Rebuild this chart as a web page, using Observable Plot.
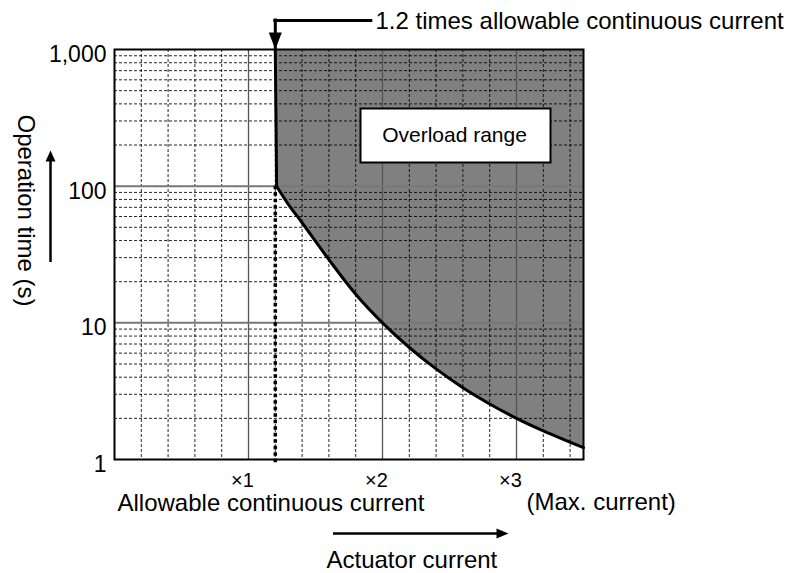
<!DOCTYPE html>
<html><head><meta charset="utf-8">
<script src="https://cdn.jsdelivr.net/npm/d3@7"></script>
<script src="https://cdn.jsdelivr.net/npm/@observablehq/plot@0.6"></script>
<style>body{margin:0;background:#fff;} svg{display:block;}</style>
</head><body><div id="chart"></div>
<script>
// ---- data ----
const currentMultiple = [1.2, 1.21, 1.3, 1.4, 1.6, 1.8, 2.0, 2.2, 2.4, 2.6, 2.8, 3.0, 3.2, 3.5];
const operationTime   = [1000, 100, 73, 54, 29, 16.2, 10, 6.6, 4.6, 3.35, 2.55, 2.0, 1.62, 1.22];
const thresholdMultiple = 1.2;
const xTickValues = [1, 2, 3];
const xTickLabels = ["×1", "×2", "×3"];
const yTickValues = [1, 10, 100, 1000];
const yTickLabels = ["1", "10", "100", "1,000"];
const xMinorGrid = d3.range(0.2, 3.5, 0.2).map(v => +v.toFixed(1)).filter(v => !xTickValues.includes(v));
const yMinorGrid = [1, 10, 100].flatMap(d => [2,3,4,5,6,7,8,9].map(m => m * d));
const titleText = "1.2 times allowable continuous current";
const rangeLabel = "Overload range";
const xLabelLeft = "Allowable continuous current";
const xLabelRight = "(Max. current)";
const xLabelBottom = "Actuator current";
const yLabel = "Operation time (s)";

const curve = currentMultiple.map((x, i) => ({x, t: operationTime[i]}));
const steepPart = curve.slice(0, 2);   // near-vertical limit at 1.2×
const decayPart = curve.slice(1);      // decaying limit curve

const arrowDown = {draw(c) { c.moveTo(0, 0); c.lineTo(-6.5, -17); c.lineTo(6.5, -17); c.closePath(); }};
const arrowUp = {draw(c) { c.moveTo(0, 0); c.lineTo(-5, 11); c.lineTo(5, 11); c.closePath(); }};
const arrowRight = {draw(c) { c.moveTo(0, 0); c.lineTo(-12, -5); c.lineTo(-12, 5); c.closePath(); }};

const font = "'Liberation Sans', Arial, Helvetica, sans-serif";

const chart = Plot.plot({
  width: 788,
  height: 573,
  marginLeft: 114,
  marginRight: 205,
  marginTop: 49,
  marginBottom: 114,
  style: {fontFamily: font, fontSize: "23px", background: "#fff", color: "#000", overflow: "visible"},
  x: {domain: [0, 3.5]},
  y: {type: "log", domain: [1, 1000]},
  marks: [
    // overload region
    Plot.areaY(steepPart, {x: "x", y1: "t", y2: () => 1000, fill: "#808080"}),
    Plot.areaY(decayPart, {x: "x", y1: "t", y2: () => 1000, fill: "#808080", curve: "catmull-rom"}),
    // grid
    Plot.ruleX(xMinorGrid, {stroke: "#000", strokeWidth: 1, strokeDasharray: "3,2", strokeOpacity: 0.85}),
    Plot.ruleY(yMinorGrid, {stroke: "#000", strokeWidth: 1, strokeDasharray: "3,2", strokeOpacity: 0.85}),
    Plot.ruleX(xTickValues, {stroke: "#555", strokeWidth: 1.3}),
    Plot.ruleY([10, 100], {stroke: "#777", strokeWidth: 2}),
    // overload label box
    Plot.frame({insetLeft: 246, insetRight: 33, insetTop: 59, insetBottom: 297, fill: "white", stroke: "black", strokeWidth: 2}),
    Plot.text([rangeLabel], {frameAnchor: "top-left", dx: 340, dy: 86, textAnchor: "middle", lineAnchor: "middle", fontSize: 21}),
    // dotted line at 1.2x
    Plot.ruleX([thresholdMultiple], {y1: () => 100, y2: () => 1, stroke: "#000", strokeWidth: 3.5, strokeDasharray: "3.5,3", insetBottom: -6}),
    // boundary curve
    Plot.line(steepPart, {x: "x", y: "t", stroke: "#000", strokeWidth: 3}),
    Plot.line(decayPart, {x: "x", y: "t", stroke: "#000", strokeWidth: 3, curve: "catmull-rom"}),
    // frame
    Plot.frame({stroke: "#000", strokeWidth: 2}),
    // axes
    Plot.axisY(yTickValues, {tickFormat: (d) => yTickLabels[yTickValues.indexOf(d)], tickSize: 0, tickPadding: 8, fontSize: 23, dy: 5, label: null}),
    Plot.axisX(xTickValues, {tickFormat: (d) => xTickLabels[xTickValues.indexOf(d)], tickSize: 0, tickPadding: 13, fontSize: 20, dx: -6, label: null}),
    // leader arrow for 1.2x
    Plot.ruleY([1000], {x1: () => thresholdMultiple, x2: () => thresholdMultiple, dy: -29, insetRight: -96, stroke: "#000", strokeWidth: 3, strokeLinecap: "square"}),
    Plot.ruleX([thresholdMultiple], {y1: () => 1000, y2: () => 1000, insetTop: -29, insetBottom: 0, stroke: "#000", strokeWidth: 3, strokeLinecap: "square"}),
    Plot.dot([thresholdMultiple], {x: d => d, y: () => 1000, symbol: arrowDown, fill: "#000", stroke: "none"}),
    Plot.text([titleText], {frameAnchor: "top-left", dx: 261, dy: -21, textAnchor: "start", lineAnchor: "bottom", fontSize: 24}),
    // y label + arrow
    Plot.text([yLabel], {frameAnchor: "left", dx: -89, dy: -44, rotate: 90, textAnchor: "middle", lineAnchor: "middle", fontSize: 24}),
    Plot.ruleX([0], {dx: -64, insetTop: 111, insetBottom: 197, stroke: "#000", strokeWidth: 2.5}),
    Plot.dot([0], {frameAnchor: "top-left", dx: -64, dy: 101, symbol: arrowUp, fill: "#000", stroke: "none"}),
    // x labels + arrow
    Plot.text([xLabelLeft], {frameAnchor: "bottom-left", dx: 3, dy: 51, textAnchor: "start", lineAnchor: "bottom", fontSize: 24}),
    Plot.text([xLabelRight], {frameAnchor: "bottom-right", dx: -57, dy: 50, textAnchor: "start", lineAnchor: "bottom", fontSize: 24}),
    Plot.ruleY([1], {dy: 74, insetLeft: 219, insetRight: 85, stroke: "#000", strokeWidth: 2.5}),
    Plot.dot([0], {frameAnchor: "bottom-left", dx: 394, dy: 74, symbol: arrowRight, fill: "#000", stroke: "none"}),
    Plot.text([xLabelBottom], {frameAnchor: "bottom-left", dx: 212, dy: 108, textAnchor: "start", lineAnchor: "bottom", fontSize: 24})
  ]
});
document.getElementById("chart").appendChild(chart);
</script>
</body></html>
